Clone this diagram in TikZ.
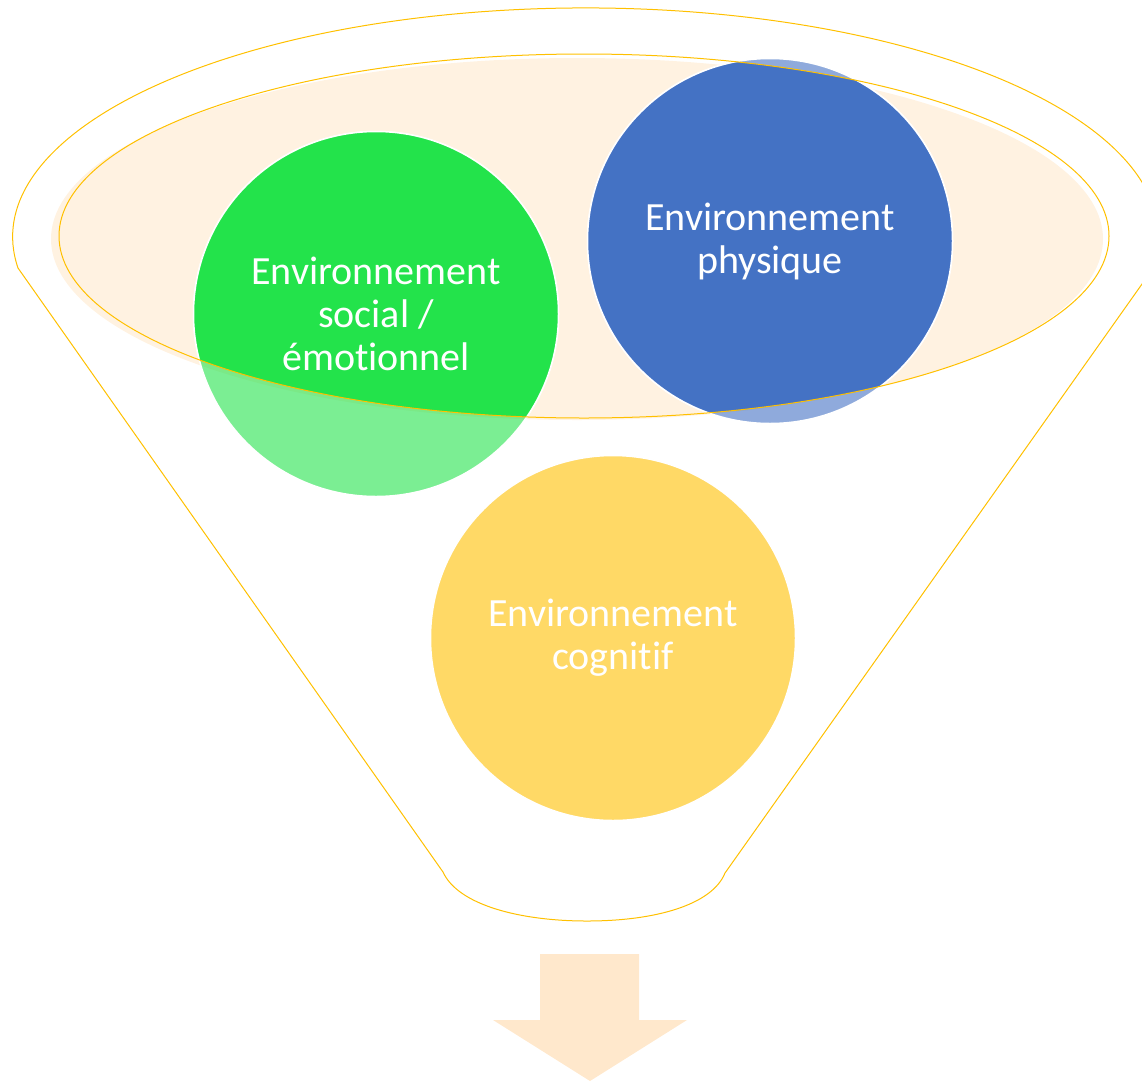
\documentclass[tikz,border=0pt]{standalone}
\usepackage{fontspec}
\setmainfont[Ligatures=NoCommon]{Carlito}
\definecolor{entonnoir}{HTML}{FFC000}
\definecolor{creme}{HTML}{FFF2E1}
\definecolor{peche}{HTML}{FFE8CC}
\definecolor{vert}{HTML}{23E34B}
\definecolor{bleu}{HTML}{4472C4}
\definecolor{jaune}{HTML}{FFD966}
\begin{document}
\begin{tikzpicture}[x=1pt,y=-1pt,
  bulle/.style={circle,draw=white,line width=1.5pt,minimum size=365pt,inner sep=0pt},
  texte/.style={text=white,align=center,font=\fontsize{40}{43}\selectfont}]
\useasboundingbox (0,0) rectangle (1142,1082);
\draw[entonnoir,line width=1pt] (18,268) arc[start angle=172.2,end angle=367.8,x radius=573,y radius=229] -- (725,873) .. controls (712,905) and (655,921) .. (587,921) .. controls (520,921) and (458,905) .. (443,872) -- cycle;
\fill[creme] (577,239) ellipse[x radius=526,y radius=181];
\node[bulle,fill=vert,fill opacity=0.6] (social) at (376,314) {};
\node[bulle,fill=bleu,fill opacity=0.6] (physique) at (770,241) {};
\node[bulle,fill=jaune] (cognitif) at (613,638) {};
\begin{scope}
\clip (584,236) ellipse[x radius=525,y radius=182];
\filldraw[vert,draw=white,line width=1.5pt] (social.center) circle (182.5);
\filldraw[bleu,draw=white,line width=1.5pt] (physique.center) circle (182.5);
\end{scope}
\draw[entonnoir,line width=1pt] (584,236) ellipse[x radius=525,y radius=182];
\node[texte] (social-t) at (social) {Environnement\\social /\\émotionnel};
\node[texte] (physique-t) at (physique) {Environnement\\physique};
\node[texte] (cognitif-t) at (cognitif) {Environnement\\cognitif};
\fill[peche] (540,954) -- (639,954) -- (639,1020) -- (687,1020) -- (590,1081) -- (493,1020) -- (540,1020) -- cycle;
\end{tikzpicture}
\end{document}
